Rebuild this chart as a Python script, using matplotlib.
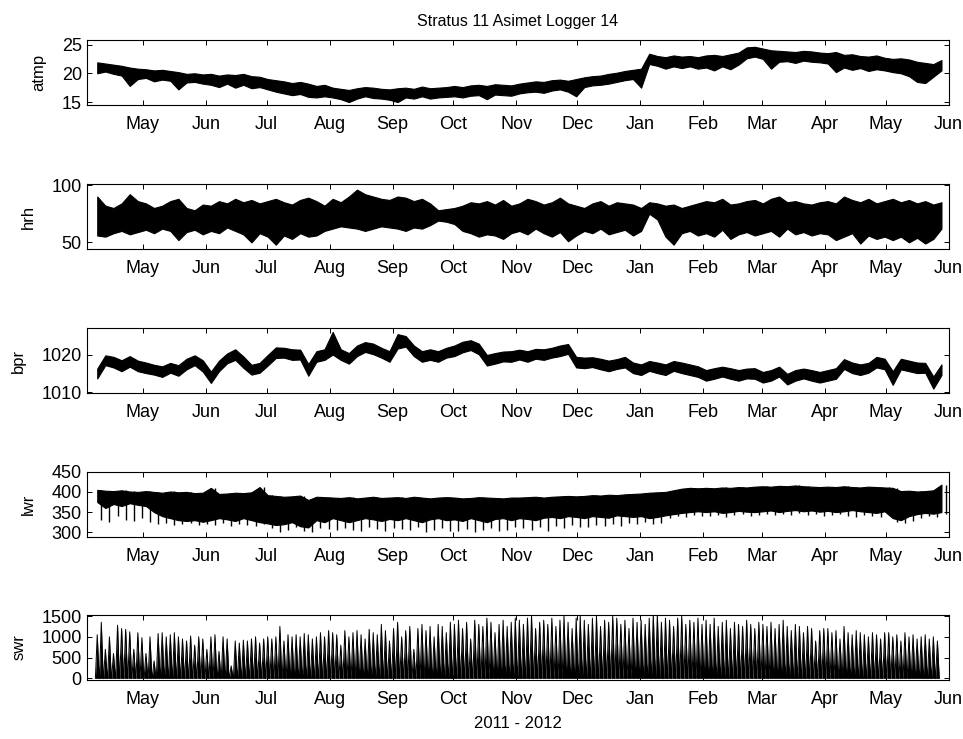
import numpy as np
import matplotlib
matplotlib.use('Agg')
import matplotlib.pyplot as plt
import matplotlib.dates as mdates

plt.rcParams['font.family'] = ['Liberation Sans', 'DejaVu Sans']
plt.rcParams['font.size'] = 12

# Sampling grids (every 4 days / every 2 days)
start = np.datetime64('2011-04-08T12:00')
t4 = start + np.arange(105) * np.timedelta64(4, 'D')
t2 = start + np.arange(208) * np.timedelta64(2, 'D')

# atmp envelope (upper / lower edge of the trace)
atmp_hi = [21.9, 21.7, 21.5, 21.3, 21.0, 20.8,
           20.7, 20.5, 20.6, 20.4, 20.2, 19.9, 20.0, 19.8,
           19.9, 19.6, 19.8, 19.7, 19.9, 19.5, 19.4,
           19.0, 18.8, 18.6, 18.3, 18.5, 18.2, 17.8, 18.0,
           17.5, 17.3, 17.1, 17.4, 17.6, 17.5, 17.3, 17.2,
           17.4, 17.5, 17.3, 17.7, 17.4, 17.5, 17.6,
           17.8, 17.6, 17.9, 18.0, 17.8, 18.1, 18.0, 17.9,
           18.2, 18.4, 18.6, 18.5, 18.8, 18.9, 18.7, 19.0,
           19.3, 19.5, 19.6, 19.9, 20.1, 20.4, 20.6,
           20.8, 23.4, 23.0, 22.8, 23.1, 22.9, 23.0, 22.8,
           23.1, 23.2, 23.0, 23.3, 23.6, 24.5, 24.6,
           24.3, 24.0, 23.9, 23.8, 23.7, 23.9, 23.8, 23.6,
           23.5, 23.7, 23.2, 23.3, 23.0, 22.9, 23.1, 22.7,
           22.5, 22.6, 22.4, 22.0, 21.8, 21.6, 22.3]
atmp_lo = [20.0, 20.3, 19.9, 19.6, 17.8, 19.0,
           19.2, 18.6, 18.9, 18.7, 17.2, 18.4, 18.5, 18.2,
           18.0, 17.6, 18.2, 17.5, 18.0, 17.4, 17.6,
           17.2, 16.8, 16.5, 16.2, 16.4, 15.9, 15.8, 16.0,
           15.8, 15.5, 15.0, 15.6, 16.0, 15.7, 15.6, 15.4,
           15.0, 15.8, 15.6, 16.0, 15.6, 15.8, 15.9,
           16.0, 15.8, 16.1, 16.2, 15.5, 16.3, 16.2, 16.1,
           16.5, 16.7, 16.8, 16.6, 17.0, 17.2, 16.8, 16.0,
           17.6, 17.9, 18.0, 18.2, 18.5, 18.8, 19.0,
           17.5, 21.6, 21.3, 20.8, 21.2, 20.9, 21.2, 20.8,
           21.0, 20.5, 21.2, 20.7, 21.5, 22.6, 22.9,
           22.5, 20.8, 22.0, 22.1, 21.8, 22.2, 22.0, 21.9,
           21.7, 20.2, 21.0, 20.6, 20.9, 20.4, 20.7, 20.5,
           20.2, 20.0, 19.5, 18.5, 18.3, 19.4, 20.5]

# hrh envelope
hrh_hi = [90, 82, 80, 84, 92, 86,
          84, 80, 82, 86, 88, 80, 78, 83,
          82, 86, 84, 88, 85, 87, 84,
          86, 88, 85, 83, 87, 89, 86, 82,
          88, 85, 90, 96, 92, 90, 88, 87,
          90, 89, 86, 88, 84, 78, 79,
          80, 82, 85, 84, 86, 83, 87, 82,
          84, 88, 86, 83, 85, 89, 84, 82,
          80, 84, 86, 82, 85, 84, 83,
          80, 85, 84, 82, 83, 80, 82, 84,
          86, 85, 88, 83, 84, 86, 87,
          84, 88, 90, 85, 86, 84, 83, 85,
          86, 84, 90, 87, 85, 88, 84, 86,
          88, 85, 87, 84, 86, 83, 85]
hrh_lo = [56, 55, 58, 60, 57, 59,
          61, 58, 62, 60, 52, 59, 61, 57,
          60, 58, 63, 60, 57, 50, 58,
          55, 48, 56, 53, 58, 55, 56, 60,
          62, 64, 63, 62, 60, 62, 64, 63,
          62, 60, 63, 62, 65, 69, 68,
          66, 60, 58, 55, 57, 56, 53, 58,
          60, 57, 62, 58, 55, 59, 51, 56,
          60, 58, 62, 57, 59, 61, 56,
          60, 75, 70, 55, 48, 58, 60, 56,
          58, 55, 61, 53, 57, 59, 56,
          58, 60, 55, 62, 57, 59, 56, 58,
          57, 52, 55, 58, 49, 56, 53, 55,
          52, 55, 50, 54, 49, 53, 62]

# bpr envelope
bpr_hi = [1016.3, 1019.8, 1019.4, 1018.5, 1019.6, 1018.4,
          1017.9, 1017.3, 1016.9, 1017.8, 1017.2, 1018.9, 1019.8, 1018.5,
          1015.5, 1018.4, 1020.3, 1021.4, 1019.5, 1017.3, 1017.8,
          1019.9, 1021.9, 1021.8, 1021.4, 1021.3, 1017.5, 1020.9, 1021.4,
          1026.0, 1021.4, 1020.4, 1022.4, 1023.3, 1022.9, 1021.8, 1020.9,
          1025.4, 1024.9, 1022.4, 1020.9, 1021.4, 1020.9, 1021.8,
          1022.4, 1023.4, 1023.8, 1022.9, 1019.9, 1020.4, 1020.8, 1020.9,
          1021.3, 1020.9, 1021.5, 1021.4, 1021.8, 1022.4, 1022.8, 1019.4,
          1019.2, 1019.3, 1018.9, 1018.4, 1018.8, 1019.4, 1017.9,
          1017.4, 1018.3, 1017.9, 1017.4, 1018.3, 1017.9, 1017.4, 1016.9,
          1015.9, 1016.4, 1016.8, 1016.4, 1015.9, 1016.3, 1016.4,
          1015.4, 1015.9, 1016.8, 1014.9, 1015.9, 1016.3, 1015.9, 1015.4,
          1015.9, 1016.4, 1018.8, 1017.9, 1017.4, 1017.8, 1019.4, 1018.9,
          1015.6, 1018.9, 1018.4, 1017.9, 1017.8, 1014.2, 1017.4]
bpr_lo = [1013.7, 1017.2, 1016.6, 1015.6, 1016.8, 1015.6,
          1015.1, 1014.7, 1014.1, 1015.2, 1014.4, 1016.1, 1017.2, 1015.5,
          1012.5, 1015.6, 1017.7, 1018.6, 1016.5, 1014.7, 1015.2,
          1017.1, 1019.1, 1019.2, 1018.6, 1018.7, 1014.4, 1018.1, 1018.6,
          1020.0, 1018.6, 1017.6, 1019.6, 1020.7, 1020.1, 1019.2, 1018.1,
          1021.6, 1022.1, 1019.6, 1018.1, 1018.6, 1018.1, 1019.2,
          1019.6, 1020.6, 1021.2, 1020.1, 1017.1, 1017.6, 1018.2, 1018.1,
          1018.7, 1018.1, 1018.9, 1018.6, 1019.2, 1019.6, 1020.2, 1016.6,
          1016.4, 1016.7, 1016.1, 1015.6, 1016.2, 1016.6, 1015.1,
          1014.6, 1015.7, 1015.1, 1014.6, 1015.7, 1015.1, 1014.6, 1014.1,
          1013.1, 1013.6, 1014.2, 1013.6, 1013.1, 1013.7, 1013.6,
          1012.6, 1013.1, 1014.2, 1012.1, 1013.1, 1013.7, 1013.1, 1012.6,
          1013.1, 1013.6, 1016.2, 1015.1, 1014.6, 1015.2, 1016.6, 1016.1,
          1012.0, 1016.1, 1015.6, 1015.1, 1015.2, 1011.0, 1014.6]

# lwr: top edge, bottom of the dense part, tips of the downward spikes
lwr_hi = [405, 403, 402, 404, 401, 400,
          402, 400, 398, 401, 399, 400, 397, 398,
          410, 395, 396, 398, 397, 399, 412,
          392, 390, 388, 389, 391, 380, 388, 387,
          386, 385, 387, 384, 386, 388, 385, 386,
          387, 385, 388, 386, 384, 386, 387,
          386, 384, 385, 387, 386, 385, 384, 386,
          386, 387, 388, 386, 388, 389, 390, 389,
          390, 392, 391, 393, 392, 394, 395,
          396, 398, 399, 400, 404, 408, 410, 409,
          410, 409, 411, 410, 412, 411, 413,
          414, 413, 415, 414, 416, 414, 413, 412,
          413, 412, 414, 412, 411, 413, 412, 411,
          410, 402, 403, 401, 402, 404, 418]
lwr_base = [375, 360, 370, 365, 372, 368,
            365, 350, 340, 335, 330, 328, 330, 326,
            330, 335, 332, 328, 335, 330, 325,
            322, 318, 320, 325, 315, 312, 330, 325,
            335, 330, 325, 330, 335, 332, 328, 333,
            330, 335, 330, 325, 332, 335, 330,
            332, 328, 335, 330, 325, 333, 335, 330,
            335, 333, 330, 336, 338, 335, 340, 338,
            335, 340, 338, 336, 342, 340, 338,
            340, 335, 338, 342, 345, 348, 350, 352,
            350, 352, 348, 350, 353, 351, 350,
            352, 354, 350, 353, 355, 352, 354, 351,
            353, 350, 352, 355, 352, 350, 348, 352,
            335, 330, 340, 345, 348, 346, 350]
lwr_min = [330, 325, 340, 330, 328, 335,
           325, 320, 322, 318, 320, 322, 318, 320,
           318, 322, 315, 320, 318, 316, 320,
           310, 300, 305, 312, 302, 300, 310, 308,
           305, 310, 306, 302, 312, 308, 304, 310,
           308, 305, 312, 300, 306, 310, 304,
           302, 308, 300, 305, 310, 302, 306, 312,
           310, 306, 312, 304, 315, 310, 318, 314,
           312, 318, 315, 320, 316, 322, 320,
           325, 320, 322, 335, 340, 338, 342, 340,
           340, 342, 338, 343, 345, 340, 342,
           345, 342, 346, 344, 348, 343, 346, 340,
           342, 345, 340, 338, 344, 340, 338, 343,
           325, 322, 328, 335, 340, 338, 345]

# swr: daily peak, every second day
swr_peak = [1050, 1350, 700, 1000, 600, 1280, 1200, 1180, 1120, 700, 1100, 980,
            600, 1000, 420, 1080, 1100, 1000, 1050, 1100, 1000, 950, 900, 1020, 800, 1000, 950,
            700, 1000, 1050, 650, 1000, 950, 300, 900, 850, 920, 900, 950, 1000, 850, 950,
            1000, 950, 1000, 1250, 900, 1050, 1000, 1050, 1000, 1080, 1050, 950, 1000, 1100, 1000, 1150,
            1100, 1050, 800, 1150, 1000, 1100, 1150, 1050, 950, 1180, 1100, 1050, 1300, 1150, 900,
            1200, 1350, 1000, 1150, 1250, 700, 1200, 1300, 1150, 1250, 1000, 1300, 1250, 1100, 1350,
            1300, 1400, 1200, 1350, 950, 1400, 1300, 1250, 1450, 1350, 1100, 1300, 1400, 1250, 1350, 1450,
            1400, 1300, 1450, 1500, 1200, 1350, 1400, 1300, 1450, 1250, 1400, 1500, 1350, 1200, 1450,
            1500, 1400, 1300, 1450, 1500, 1250, 1400, 1350, 1500, 1450, 1300, 1400, 1200, 1450, 1350,
            1400, 1300, 1450, 1550, 1550, 1350, 1450, 1400, 1250, 1450, 1500, 1300, 1400, 1350, 1450, 1300,
            1400, 1300, 1450, 1250, 1350, 1400, 1200, 1350, 1300, 1250, 1400, 1300, 1200, 1350,
            1300, 1250, 1350, 1200, 1300, 1400, 1250, 1150, 1300, 1250, 1100, 1250, 1200, 900, 1150, 1200,
            1200, 1100, 1150, 950, 1250, 1100, 1050, 1150, 1100, 1050, 1000, 1100, 1050, 950, 1100,
            1100, 1000, 1050, 900, 1100, 1000, 1050, 950, 1000, 1050, 950, 1000, 900]

labels = ['atmp', 'hrh', 'bpr', 'lwr', 'swr']
ylims = [(14.5, 25.8), (44.2, 100.9), (1009.8, 1027), (289, 450), (-40, 1525)]
yticks = [[15, 20, 25], [50, 100], [1010, 1020], [300, 350, 400, 450], [0, 500, 1000, 1500]]
bottoms = [0.858, 0.663, 0.468, 0.2737, 0.0798]

fig = plt.figure(figsize=(9.63, 7.39), dpi=100)
axes = [fig.add_axes([0.090, b, 0.895, 0.088]) for b in bottoms]

axes[0].fill_between(t4, atmp_lo, atmp_hi, color='k', lw=0.8)
axes[1].fill_between(t4, hrh_lo, hrh_hi, color='k', lw=0.8)
axes[2].fill_between(t4, bpr_lo, bpr_hi, color='k', lw=0.8)
axes[3].fill_between(t4, lwr_base, lwr_hi, color='k', lw=0.8)
axes[3].vlines(t4 + np.timedelta64(2, 'D'), lwr_min, lwr_hi, color='k', lw=1.0)

# swr: one triangular day per sample, zero at night
half = np.timedelta64(22, 'h')
sx, sy = [], []
for t, p in zip(t2, swr_peak):
    sx += [t - half, t, t + half]
    sy += [0, p, 0]
sx = np.array(sx)
axes[4].fill_between(sx, 0, sy, color='k', lw=0)
axes[4].plot(sx, sy, color='k', lw=0.7)

xmin = np.datetime64('2011-04-03T07:00')
xmax = np.datetime64('2012-06-01T00:00')
for ax, lab, yl, yt in zip(axes, labels, ylims, yticks):
    ax.set_xlim(xmin, xmax)
    ax.set_ylim(*yl)
    ax.set_yticks(yt)
    ax.set_ylabel(lab, labelpad=11)
    ax.xaxis.set_major_locator(mdates.MonthLocator())
    ax.xaxis.set_major_formatter(mdates.DateFormatter('%b'))
    ax.tick_params(direction='in', top=True, right=True, length=3.6, width=0.7,
                   labelsize=13)
    ax.tick_params(axis='x', pad=8)
    for s in ax.spines.values():
        s.set_linewidth(0.8)

axes[0].set_title('Stratus 11 Asimet Logger 14', fontsize=11.5, pad=10)
axes[4].set_xlabel('2011 - 2012', fontsize=12, labelpad=6)

fig.savefig('out.png', dpi=100)
